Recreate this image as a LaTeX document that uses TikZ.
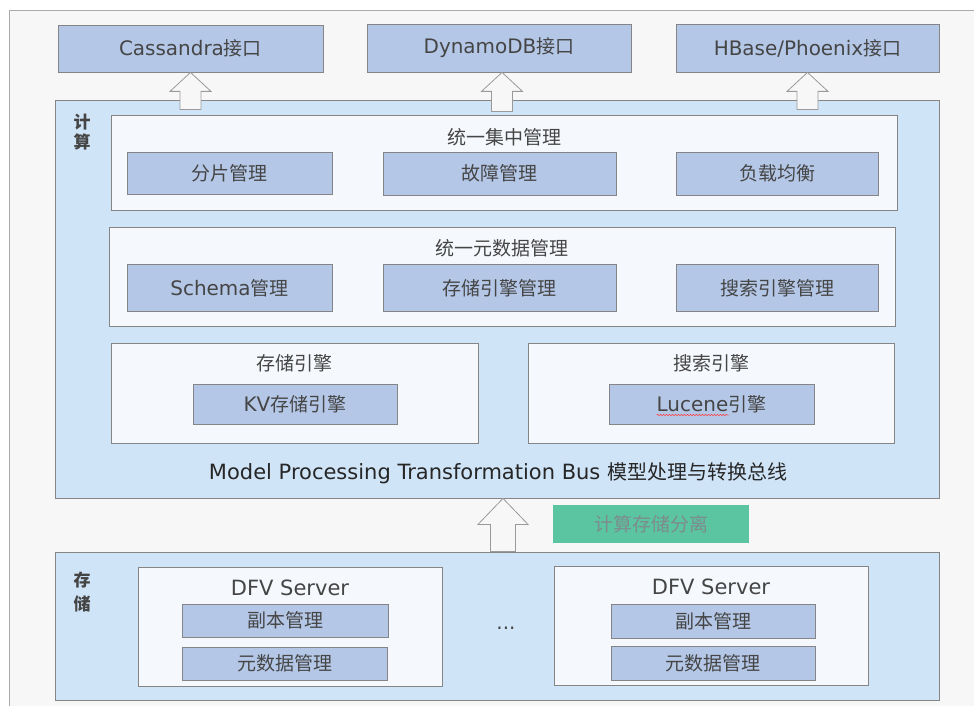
\documentclass[tikz,border=0pt]{standalone}
\usepackage{fontspec}
\setmainfont{DejaVu Sans}[Scale=1.05]
\newfontfamily\cjkfont{Noto Sans CJK SC}
\newcommand{\zh}[1]{{\cjkfont #1}}
\usetikzlibrary{calc,decorations.pathmorphing}

\definecolor{framegray}{HTML}{F7F7F7}
\definecolor{linegray}{HTML}{858585}
\definecolor{layerblue}{HTML}{D0E4F8}
\definecolor{groupwhite}{HTML}{F5F8FD}
\definecolor{itemblue}{HTML}{B4C7E7}
\definecolor{textgray}{HTML}{454545}
\definecolor{busblack}{HTML}{262626}
\definecolor{greenfill}{HTML}{5BC4A0}
\definecolor{greentext}{HTML}{7D8C8C}
\definecolor{arrowgray}{HTML}{9A9A9A}

% tail, tip, head half width, shaft half width, head length
\newcommand{\fatarrow}[5]{%
\path[fatarrow] let \p1=(#1), \p2=(#2) in (\x2,\y2) -- (\x2+#3pt,\y2-#5pt) -- (\x2+#4pt,\y2-#5pt) -- (\x2+#4pt,\y1) -- (\x2-#4pt,\y1) -- (\x2-#4pt,\y2-#5pt) -- (\x2-#3pt,\y2-#5pt) -- cycle;}

\begin{document}
\begin{tikzpicture}[x=1pt,y=-1pt,
every node/.style={text=textgray,font=\fontsize{19}{22}\selectfont,inner sep=0pt},
box/.style={rectangle,draw=linegray,line width=0.8pt},
item/.style={box,fill=itemblue},
group/.style={box,fill=groupwhite},
layer/.style={box,fill=layerblue},
tag/.style={font=\fontsize{17}{20}\selectfont\cjkfont\bfseries,align=center},
fatarrow/.style={draw=arrowgray,fill=framegray,line width=0.8pt}]

\useasboundingbox (0,0) rectangle (974,706);
\fill[white] (0,0) rectangle (974,706);
\draw[linegray!70,fill=framegray,line width=0.8pt] (9,10) rectangle (990,720);

% Nodes
\node[item,minimum width=265pt,minimum height=47pt] (cas) at (190.5,48.5) {Cassandra\zh{接口}};
\node[item,minimum width=264pt,minimum height=48pt] (dyn) at (499,48) {DynamoDB\zh{接口}};
\node[item,minimum width=263pt,minimum height=48pt] (hbs) at (807.5,48) {HBase/Phoenix\zh{接口}};

\node[layer,minimum width=884pt,minimum height=398pt] (comp) at (497,299) {};
\node[tag] (comptag) at (82,132) {计\\算};

%arcs
\fatarrow{$(cas.south |- comp.north)+(0,10)$}{cas.south}{20.5}{10.5}{19}
\fatarrow{$(dyn.south |- comp.north)+(3,12)$}{[xshift=3pt]dyn.south}{20.5}{10.5}{19}
\fatarrow{$(hbs.south |- comp.north)+(0,10)$}{hbs.south}{20.5}{10.5}{19}

\node[group,minimum width=786pt,minimum height=95pt] (mgmt) at (504,162.5) {};
\node (mgmttitle) at (504,137) {\zh{统一集中管理}};
\node[item,minimum width=205pt,minimum height=42pt] (shard) at (229.5,173.5) {\zh{分片管理}};
\node[item,minimum width=233pt,minimum height=43pt] (fault) at (499.5,173.5) {\zh{故障管理}};
\node[item,minimum width=202pt,minimum height=43pt] (load) at (777,173.5) {\zh{负载均衡}};

\node[group,minimum width=786pt,minimum height=99pt] (meta) at (502,276.5) {};
\node (metatitle) at (502,248) {\zh{统一元数据管理}};
\node[item,minimum width=205pt,minimum height=47pt] (schema) at (229.5,288) {Schema\zh{管理}};
\node[item,minimum width=233pt,minimum height=47pt] (stmgr) at (499.5,288) {\zh{存储引擎管理}};
\node[item,minimum width=202pt,minimum height=47pt] (srmgr) at (777,288) {\zh{搜索引擎管理}};

\node[group,minimum width=367pt,minimum height=100pt] (steng) at (294.5,393) {};
\node (stengtitle) at (294.5,363) {\zh{存储引擎}};
\node[item,minimum width=204pt,minimum height=40pt] (kv) at (295,404) {KV\zh{存储引擎}};

\node[group,minimum width=366pt,minimum height=100pt] (sreng) at (711,393) {};
\node (srengtitle) at (711,363) {\zh{搜索引擎}};
\node[item,minimum width=205pt,minimum height=40pt] (luc) at (711.5,404) {Lucene\zh{引擎}};
\draw[red!75,line width=0.5pt,decorate,decoration={snake,amplitude=0.7pt,segment length=3pt}] ($(luc.center)+(-55,11)$) -- ($(luc.center)+(17,11)$);

\node[text=busblack,font=\fontsize{20}{24}\selectfont] (bus) at (498,473) {Model Processing Transformation Bus \zh{模型处理与转换总线}};

\node[layer,minimum width=884pt,minimum height=148pt] (stor) at (497,626) {};
\node[tag,font=\fontsize{17}{24}\selectfont\cjkfont\bfseries] (stortag) at (82,592) {存\\储};

\fatarrow{[xshift=6pt]stor.north}{[xshift=6pt]comp.south}{25}{12.5}{26}
\node[fill=greenfill,text=greentext,minimum width=196pt,minimum height=38pt] (split) at (651,524) {\zh{计算存储分离}};

\node[group,minimum width=304pt,minimum height=119pt] (dfv1) at (290,626.5) {};
\node[font=\fontsize{20}{24}\selectfont] (dfv1title) at (290,588) {DFV Server};
\node[item,minimum width=206pt,minimum height=33pt] (rep1) at (285,620.5) {\zh{副本管理}};
\node[item,minimum width=205pt,minimum height=33pt] (md1) at (284.5,663.5) {\zh{元数据管理}};

\node (dots) at (506,628) {...};

\node[group,minimum width=314pt,minimum height=119pt] (dfv2) at (711,625.5) {};
\node[font=\fontsize{20}{24}\selectfont] (dfv2title) at (711,587) {DFV Server};
\node[item,minimum width=204pt,minimum height=34pt] (rep2) at (713,621) {\zh{副本管理}};
\node[item,minimum width=204pt,minimum height=34pt] (md2) at (713,663) {\zh{元数据管理}};

\end{tikzpicture}
\end{document}
